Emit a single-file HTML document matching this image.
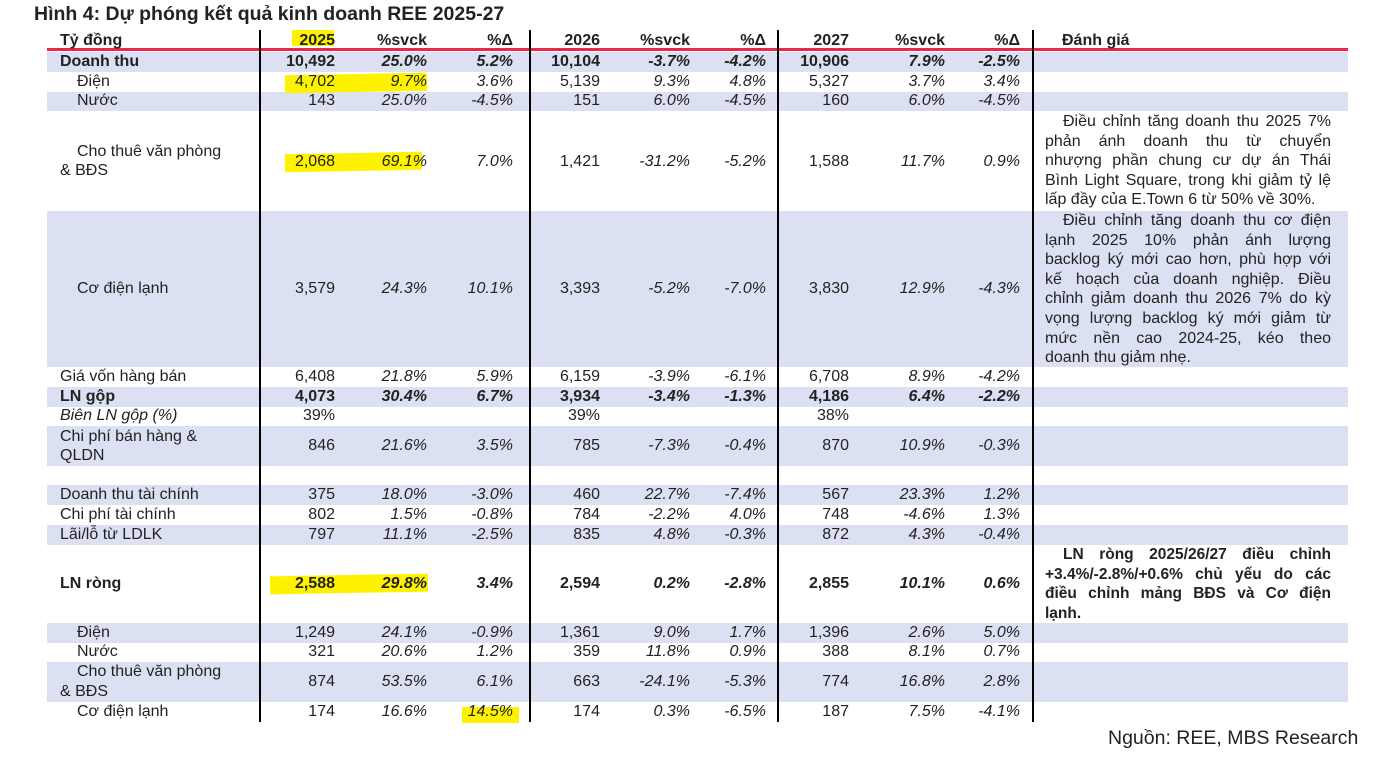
<!DOCTYPE html>
<html><head><meta charset="utf-8"><style>
body{margin:0;width:1386px;height:761px;background:#fff;font-family:"Liberation Sans",sans-serif;color:#222;position:relative;overflow:hidden}
.band{position:absolute;left:47px;width:1301px;background:#dbe1f2}
.vl{position:absolute;top:30px;height:692px;width:2px;background:#000}
.r{position:absolute;left:0;width:1386px;height:20px;line-height:20px;font-size:16px;white-space:nowrap}
.r span{position:absolute}
.l{left:60px}.l2{left:77px}
.a{right:1051px}.b{right:959px;font-style:italic}.c{right:873px;font-style:italic}
.d{right:786px}.e{right:696px;font-style:italic}.f{right:620px;font-style:italic}
.g{right:537px}.h{right:441px;font-style:italic}.i{right:366px;font-style:italic}
.bold{font-weight:bold}
.hl{position:absolute;background:#fff200}
.t{position:absolute;left:1045px;width:286px;font-size:16px;line-height:19.6px}
.t div{text-align:justify;text-align-last:justify;white-space:nowrap}
.t div.last{text-align-last:left}
.t div.ind{padding-left:18px}
</style></head><body>
<div style="position:absolute;left:34px;top:3px;font-size:19.5px;font-weight:bold;letter-spacing:0px">Hình 4: Dự phóng kết quả kinh doanh REE 2025-27</div>

<div class="band" style="top:52px;height:20px"></div>
<div class="band" style="top:92px;height:19px"></div>
<div class="band" style="top:211px;height:156px"></div>
<div class="band" style="top:387px;height:20px"></div>
<div class="band" style="top:426px;height:40px"></div>
<div class="band" style="top:485px;height:20px"></div>
<div class="band" style="top:525px;height:20px"></div>
<div class="band" style="top:623px;height:20px"></div>
<div class="band" style="top:662px;height:40px"></div>

<div class="hl" style="left:292px;top:30px;width:42px;height:16px"></div>
<div class="hl" style="left:285px;top:74px;width:142px;height:18px;transform:rotate(-1deg)"></div>
<div class="hl" style="left:285px;top:153px;width:137px;height:18px;transform:rotate(-1deg)"></div>
<div class="hl" style="left:270px;top:575px;width:158px;height:18px;transform:rotate(-1deg)"></div>
<div class="hl" style="left:462px;top:707px;width:57px;height:16px"></div>

<div style="position:absolute;left:47px;top:48px;width:1301px;height:3px;background:#e8274a"></div>
<div class="vl" style="left:259px"></div>
<div class="vl" style="left:529px"></div>
<div class="vl" style="left:777px"></div>
<div class="vl" style="left:1032px"></div>

<div class="r bold" style="top:31px"><span class="l">Tỷ đồng</span><span class="a">2025</span><span class="b" style="font-style:normal">%svck</span><span class="c" style="font-style:normal">%Δ</span><span class="d">2026</span><span class="e" style="font-style:normal">%svck</span><span class="f" style="font-style:normal">%Δ</span><span class="g">2027</span><span class="h" style="font-style:normal">%svck</span><span class="i" style="font-style:normal">%Δ</span><span style="left:1062px">Đánh giá</span></div>
<div class="r bold" style="top:52px"><span class="l">Doanh thu</span><span class="a">10,492</span><span class="b">25.0%</span><span class="c">5.2%</span><span class="d">10,104</span><span class="e">-3.7%</span><span class="f">-4.2%</span><span class="g">10,906</span><span class="h">7.9%</span><span class="i">-2.5%</span></div>
<div class="r" style="top:72px"><span class="l2">Điện</span><span class="a">4,702</span><span class="b">9.7%</span><span class="c">3.6%</span><span class="d">5,139</span><span class="e">9.3%</span><span class="f">4.8%</span><span class="g">5,327</span><span class="h">3.7%</span><span class="i">3.4%</span></div>
<div class="r" style="top:91px"><span class="l2">Nước</span><span class="a">143</span><span class="b">25.0%</span><span class="c">-4.5%</span><span class="d">151</span><span class="e">6.0%</span><span class="f">-4.5%</span><span class="g">160</span><span class="h">6.0%</span><span class="i">-4.5%</span></div>
<div class="r" style="top:142px"><span class="l2">Cho thuê văn phòng</span></div>
<div class="r" style="top:152px"><span class="a">2,068</span><span class="b">69.1%</span><span class="c">7.0%</span><span class="d">1,421</span><span class="e">-31.2%</span><span class="f">-5.2%</span><span class="g">1,588</span><span class="h">11.7%</span><span class="i">0.9%</span></div>
<div class="r" style="top:161px"><span class="l">&amp; BĐS</span></div>
<div class="r" style="top:279px"><span class="l2">Cơ điện lạnh</span><span class="a">3,579</span><span class="b">24.3%</span><span class="c">10.1%</span><span class="d">3,393</span><span class="e">-5.2%</span><span class="f">-7.0%</span><span class="g">3,830</span><span class="h">12.9%</span><span class="i">-4.3%</span></div>
<div class="r" style="top:367px"><span class="l">Giá vốn hàng bán</span><span class="a">6,408</span><span class="b">21.8%</span><span class="c">5.9%</span><span class="d">6,159</span><span class="e">-3.9%</span><span class="f">-6.1%</span><span class="g">6,708</span><span class="h">8.9%</span><span class="i">-4.2%</span></div>
<div class="r bold" style="top:387px"><span class="l">LN gộp</span><span class="a">4,073</span><span class="b">30.4%</span><span class="c">6.7%</span><span class="d">3,934</span><span class="e">-3.4%</span><span class="f">-1.3%</span><span class="g">4,186</span><span class="h">6.4%</span><span class="i">-2.2%</span></div>
<div class="r" style="top:406px"><span class="l" style="font-style:italic">Biên LN gộp (%)</span><span class="a">39%</span><span class="d">39%</span><span class="g">38%</span></div>
<div class="r" style="top:427px"><span class="l">Chi phí bán hàng &amp;</span></div>
<div class="r" style="top:436px"><span class="a">846</span><span class="b">21.6%</span><span class="c">3.5%</span><span class="d">785</span><span class="e">-7.3%</span><span class="f">-0.4%</span><span class="g">870</span><span class="h">10.9%</span><span class="i">-0.3%</span></div>
<div class="r" style="top:446px"><span class="l">QLDN</span></div>
<div class="r" style="top:485px"><span class="l">Doanh thu tài chính</span><span class="a">375</span><span class="b">18.0%</span><span class="c">-3.0%</span><span class="d">460</span><span class="e">22.7%</span><span class="f">-7.4%</span><span class="g">567</span><span class="h">23.3%</span><span class="i">1.2%</span></div>
<div class="r" style="top:505px"><span class="l">Chi phí tài chính</span><span class="a">802</span><span class="b">1.5%</span><span class="c">-0.8%</span><span class="d">784</span><span class="e">-2.2%</span><span class="f">4.0%</span><span class="g">748</span><span class="h">-4.6%</span><span class="i">1.3%</span></div>
<div class="r" style="top:525px"><span class="l">Lãi/lỗ từ LDLK</span><span class="a">797</span><span class="b">11.1%</span><span class="c">-2.5%</span><span class="d">835</span><span class="e">4.8%</span><span class="f">-0.3%</span><span class="g">872</span><span class="h">4.3%</span><span class="i">-0.4%</span></div>
<div class="r bold" style="top:574px"><span class="l">LN ròng</span><span class="a">2,588</span><span class="b">29.8%</span><span class="c">3.4%</span><span class="d">2,594</span><span class="e">0.2%</span><span class="f">-2.8%</span><span class="g">2,855</span><span class="h">10.1%</span><span class="i">0.6%</span></div>
<div class="r" style="top:623px"><span class="l2">Điện</span><span class="a">1,249</span><span class="b">24.1%</span><span class="c">-0.9%</span><span class="d">1,361</span><span class="e">9.0%</span><span class="f">1.7%</span><span class="g">1,396</span><span class="h">2.6%</span><span class="i">5.0%</span></div>
<div class="r" style="top:642px"><span class="l2">Nước</span><span class="a">321</span><span class="b">20.6%</span><span class="c">1.2%</span><span class="d">359</span><span class="e">11.8%</span><span class="f">0.9%</span><span class="g">388</span><span class="h">8.1%</span><span class="i">0.7%</span></div>
<div class="r" style="top:662px"><span class="l2">Cho thuê văn phòng</span></div>
<div class="r" style="top:672px"><span class="a">874</span><span class="b">53.5%</span><span class="c">6.1%</span><span class="d">663</span><span class="e">-24.1%</span><span class="f">-5.3%</span><span class="g">774</span><span class="h">16.8%</span><span class="i">2.8%</span></div>
<div class="r" style="top:682px"><span class="l">&amp; BĐS</span></div>
<div class="r" style="top:702px"><span class="l2">Cơ điện lạnh</span><span class="a">174</span><span class="b">16.6%</span><span class="c">14.5%</span><span class="d">174</span><span class="e">0.3%</span><span class="f">-6.5%</span><span class="g">187</span><span class="h">7.5%</span><span class="i">-4.1%</span></div>

<div class="t" style="top:112px">
<div class="ind">Điều chỉnh tăng doanh thu 2025 7%</div>
<div>phản ánh doanh thu từ chuyển</div>
<div>nhượng phần chung cư dự án Thái</div>
<div>Bình Light Square, trong khi giảm tỷ lệ</div>
<div class="last">lấp đầy của E.Town 6 từ 50% về 30%.</div>
</div>
<div class="t" style="top:211px">
<div class="ind">Điều chỉnh tăng doanh thu cơ điện</div>
<div>lạnh 2025 10% phản ánh lượng</div>
<div>backlog ký mới cao hơn, phù hợp với</div>
<div>kế hoạch của doanh nghiệp. Điều</div>
<div>chỉnh giảm doanh thu 2026 7% do kỳ</div>
<div>vọng lượng backlog ký mới giảm từ</div>
<div>mức nền cao 2024-25, kéo theo</div>
<div class="last">doanh thu giảm nhẹ.</div>
</div>
<div class="t" style="top:545px;font-weight:bold;font-size:15.5px">
<div class="ind">LN ròng 2025/26/27 điều chỉnh</div>
<div>+3.4%/-2.8%/+0.6% chủ yếu do các</div>
<div>điều chỉnh mảng BĐS và Cơ điện</div>
<div class="last">lạnh.</div>
</div>

<div style="position:absolute;left:1108px;top:727px;font-size:19.5px">Nguồn: REE, MBS Research</div>
</body></html>
